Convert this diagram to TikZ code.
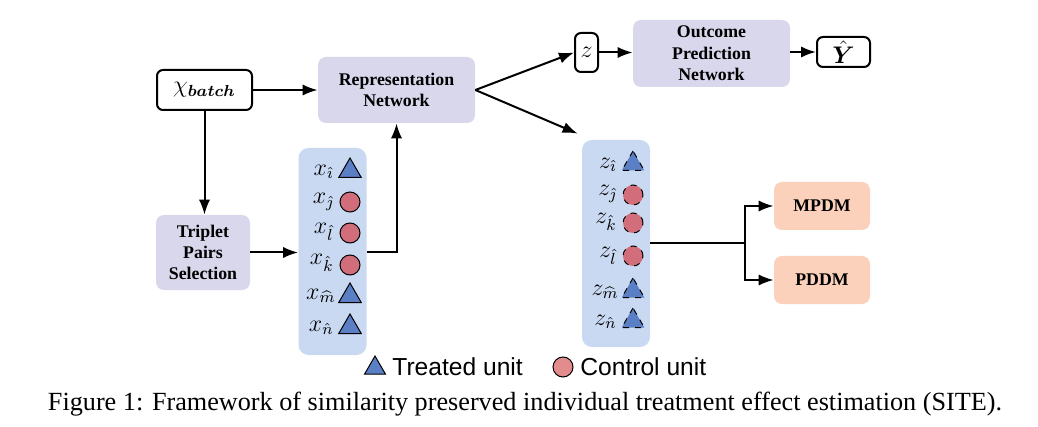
\documentclass[tikz,border=0pt]{standalone}
\usepackage{fontspec}
\setmainfont{Liberation Serif}
\setsansfont{Liberation Sans}
\usepackage{amsmath,bm}
\usetikzlibrary{arrows.meta, shapes.geometric, calc}

\definecolor{netfill}{HTML}{D9D7EC}
\definecolor{panelfill}{HTML}{C9D9F1}
\definecolor{treatfill}{HTML}{5B7FC5}
\definecolor{ctrlfill}{HTML}{D26E7B}
\definecolor{ctrllegend}{HTML}{E28C8E}
\definecolor{lossfill}{HTML}{FBD1BC}

\begin{document}
\begin{tikzpicture}[
    x=0.5pt, y=-0.5pt,
    >=Latex,
    font=\bfseries\fontsize{8.9}{10.7}\selectfont,
    % estilos
    net/.style={rectangle, rounded corners=4pt, fill=netfill, align=center, inner sep=0pt},
    io/.style={rectangle, rounded corners=3pt, draw=black, line width=1pt, fill=white, inner sep=0pt, font=\fontsize{12}{14}\selectfont},
    panel/.style={rectangle, rounded corners=5pt, fill=panelfill, inner sep=0pt, minimum width=34pt, minimum height=103.5pt},
    loss/.style={rectangle, rounded corners=4pt, fill=lossfill, inner sep=0pt, minimum width=48pt, minimum height=24pt},
    tri/.style={regular polygon, regular polygon sides=3, draw=black, line width=0.5pt, fill=treatfill, inner sep=0pt, minimum size=13pt},
    dot/.style={circle, draw=black, line width=0.5pt, fill=ctrlfill, inner sep=0pt, minimum size=10pt},
    lbl/.style={anchor=east, inner sep=0pt, font=\fontsize{11.5}{13}\selectfont},
    link/.style={->, line width=1pt}
]
    \useasboundingbox (0,0) rectangle (1038,427);

    % ================= ENTRADA E REDES =================
    \node[io, minimum width=47.5pt, minimum height=20pt] (chi) at (204.5, 90) {$\chi_{\bm{batch}}$};
    \node[net, minimum width=78.5pt, minimum height=33pt] (rep) at (396.5, 90) {Representation\\Network};
    \node[net, minimum width=47pt, minimum height=37.5pt] (triplet) at (203, 252.5) {Triplet\\Pairs\\Selection};
    \node[io, minimum width=11.5pt, minimum height=19.5pt] (zbox) at (586.5, 52.5) {$z$};
    \node[net, minimum width=78.5pt, minimum height=33.5pt] (outnet) at (711.5, 53.5) {Outcome\\Prediction\\Network};
    \node[io, minimum width=26.5pt, minimum height=15pt] (yhat) at (843.5, 52) {$\bm{\hat{Y}}$};

    % ================= PAINEL x =================
    \node[panel] (xpanel) at (332.5, 251.5) {};
    \node[lbl] (xi) at (334, 172) {$x_{\hat{\imath}}$};
    \node[tri] (xitri) at (350, 171) {};
    \node[lbl] (xj) at (334, 202) {$x_{\hat{\jmath}}$};
    \node[dot] (xjdot) at (350, 202) {};
    \node[lbl] (xl) at (334, 232) {$x_{\hat{l}}$};
    \node[dot] (xldot) at (350, 233) {};
    \node[lbl] (xk) at (334, 263) {$x_{\hat{k}}$};
    \node[dot] (xkdot) at (350, 265) {};
    \node[lbl] (xm) at (336, 296) {$x_{\widehat{m}}$};
    \node[tri] (xmtri) at (350, 296) {};
    \node[lbl] (xn) at (334, 328) {$x_{\hat{n}}$};
    \node[tri] (xntri) at (350, 327) {};

    % ================= PAINEL z =================
    \node[panel] (zpanel) at (616, 243.5) {};
    \node[lbl] (zi) at (617, 165) {$z_{\hat{\imath}}$};
    \node[tri, dashed] (zitri) at (633, 164) {};
    \node[lbl] (zj) at (617, 194) {$z_{\hat{\jmath}}$};
    \node[dot, dashed] (zjdot) at (633, 195) {};
    \node[lbl] (zk) at (617, 222) {$z_{\hat{k}}$};
    \node[dot, dashed] (zkdot) at (633, 223) {};
    \node[lbl] (zl) at (617, 256) {$z_{\hat{l}}$};
    \node[dot, dashed] (zldot) at (633, 256) {};
    \node[lbl] (zm) at (619, 292) {$z_{\widehat{m}}$};
    \node[tri, dashed] (zmtri) at (633, 291) {};
    \node[lbl] (zn) at (617, 322) {$z_{\hat{n}}$};
    \node[tri, dashed] (zntri) at (633, 321) {};

    % ================= PERDAS =================
    \node[loss] (mpdm) at (822, 206) {MPDM};
    \node[loss] (pddm) at (822, 280) {PDDM};

    % ================= LEGENDA E TITULO =================
    \node[tri, minimum size=12pt] (legtri) at (375, 368) {};
    \node[anchor=west, inner sep=0pt, font=\sffamily\fontsize{12.3}{14}\selectfont] (treatedlbl) at (392, 367) {Treated unit};
    \node[dot, fill=ctrllegend] (legdot) at (563, 367) {};
    \node[anchor=west, inner sep=0pt, font=\sffamily\fontsize{12.3}{14}\selectfont] (controllbl) at (580, 367) {Control unit};
    \node[inner sep=0pt, font=\fontsize{13.1}{15}\selectfont] (caption) at (525, 404) {Figure 1: Framework of similarity preserved individual treatment effect estimation (SITE).};

    % ================= LIGACOES =================
    \draw[link] (chi.east) -- (rep.west);
    \draw[link] (chi.south) -- (chi.south |- triplet.north);
    \draw[link] (triplet.east) -- (xpanel.west |- triplet.east);
    \draw[link] (xpanel.east |- triplet.east) -| (rep.south);
    \draw[link] (rep.east) -- (zbox.west);
    \draw[link] (rep.east) -- ([xshift=-2pt, yshift=3pt]zpanel.north west);
    \draw[link] (zbox.east) -- (outnet.west |- zbox.east);
    \draw[link] (outnet.east |- yhat.west) -- (yhat.west);

    % divisao para MPDM / PDDM
    \coordinate (fork) at ($(zpanel.east)+(95,0)$);
    \draw[line width=1pt] (zpanel.east) -- (fork);
    \draw[link] (fork) |- (mpdm.west);
    \draw[link] (fork) |- (pddm.west);

\end{tikzpicture}
\end{document}
